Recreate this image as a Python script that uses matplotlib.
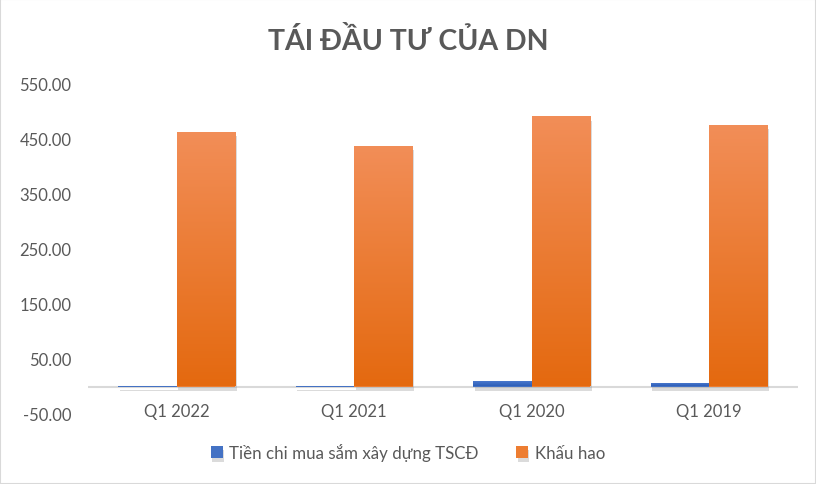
import matplotlib
matplotlib.use('Agg')
import matplotlib.pyplot as plt
import matplotlib.patheffects as pe
from matplotlib.colors import LinearSegmentedColormap
import numpy as np

plt.rcParams['font.family'] = ['Lato', 'DejaVu Sans']

# data
quarters = ['Q1 2022', 'Q1 2021', 'Q1 2020', 'Q1 2019']
capex = [1.5, 1.5, 10.0, 6.0]          # Tiền chi mua sắm xây dựng TSCĐ
depreciation = [463.0, 437.0, 491.0, 475.0]  # Khấu hao
series_names = ['Tiền chi mua sắm xây dựng TSCĐ', 'Khấu hao']

text_col = '#595959'
blue_cmap = LinearSegmentedColormap.from_list('b', ['#2E5FB8', '#4F7DD0'])
orange_cmap = LinearSegmentedColormap.from_list('o', ['#E4690F', '#F28E58'])

fig = plt.figure(figsize=(8.16, 4.85), dpi=100)
ax = fig.add_axes([88 / 816, 1 - 415 / 485, 710 / 816, 330 / 485])

x = np.arange(len(quarters))
w = 0.33
shadow = [pe.SimplePatchShadow(offset=(1, -3), shadow_rgbFace='#8a8a8a', alpha=0.3), pe.Normal()]
b1 = ax.bar(x - w / 2, capex, w, color='#4472C4', label=series_names[0], zorder=2)
b2 = ax.bar(x + w / 2, depreciation, w, color='#ED7D31', label=series_names[1], zorder=2)

grad = np.linspace(0, 1, 256).reshape(-1, 1)
for bars, cmap in [(b1, blue_cmap), (b2, orange_cmap)]:
    for bar in bars:
        bar.set_path_effects(shadow)
        x0, y0 = bar.get_x(), bar.get_y()
        im = ax.imshow(grad, cmap=cmap, aspect='auto', origin='lower',
                       extent=[x0, x0 + bar.get_width(), y0, y0 + bar.get_height()], zorder=3)
        im.set_clip_path(bar)

ax.set_xlim(-0.5, len(quarters) - 0.5)
ax.set_ylim(-50, 550)
ax.set_yticks(np.arange(-50, 551, 100))
ax.set_yticklabels([f'{v:.2f}' for v in np.arange(-50, 551, 100)])
ax.set_xticks([])
for i, q in enumerate(quarters):
    ax.text(i, -44, q, ha='center', va='center', fontsize=12, color=text_col)

ax.axhline(0, color='#d9d9d9', lw=1.5, zorder=1)
for s in ax.spines.values():
    s.set_visible(False)
ax.tick_params(axis='y', length=0, pad=12, labelsize=12, labelcolor=text_col)

fig.text(0.5, 1 - 41 / 485, 'TÁI ĐẦU TƯ CỦA DN', ha='center', va='center',
         fontsize=20.5, fontweight='bold', color=text_col)

leg = fig.legend(handles=[b1, b2], loc='center', bbox_to_anchor=(0.5, 1 - 453 / 485),
                 ncol=2, frameon=False, fontsize=12.2, handlelength=0.7, handleheight=0.7,
                 columnspacing=2.2, handletextpad=0.4)
for t in leg.get_texts():
    t.set_color(text_col)

fig.patches.append(plt.Rectangle((0, 0), 1, 1, transform=fig.transFigure, fill=False,
                                 edgecolor='#d9d9d9', lw=1.5))

fig.savefig('out.png', dpi=100)
